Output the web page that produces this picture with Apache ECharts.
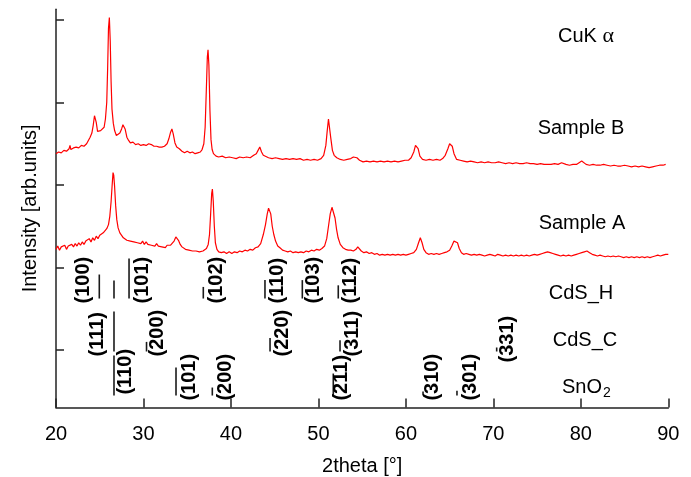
<!DOCTYPE html>
<html><head><meta charset="utf-8">
<script src="https://cdn.jsdelivr.net/npm/echarts@6/dist/echarts.min.js"></script>
<style>html,body{margin:0;padding:0;background:#fff}#c{width:691px;height:477px}</style>
</head><body><div id="c"></div>
<script>
// ---- data ----
const xTicks = [20, 30, 40, 50, 60, 70, 80, 90];
const yTicks = [0, 100, 200, 300, 400];

// Sample B: [2theta, intensity]
const sampleB = [[20.0,238],[20.3,240],[20.6,239],[20.9,242],[21.2,241],[21.5,244],[21.6,248],[21.7,243],[22.0,245],[22.3,246],[22.6,245],[22.9,248],[23.2,247],[23.5,250],[23.7,254],[23.9,258],[24.1,263],[24.25,272],[24.4,284],[24.5,286],[24.6,276],[24.75,265],[24.9,264],[25.1,266],[25.3,264],[25.5,270],[25.65,280],[25.8,300],[25.9,340],[26.0,390],[26.1,403],[26.2,375],[26.3,325],[26.4,292],[26.55,275],[26.7,266],[26.9,260],[27.1,259],[27.3,263],[27.5,268],[27.65,273],[27.75,275],[27.9,268],[28.1,258],[28.3,254],[28.5,251],[28.8,252],[29.1,249],[29.4,250],[29.7,248],[30.0,249],[30.3,248],[30.6,250],[30.9,249],[31.2,247],[31.5,247],[31.8,246],[32.1,246],[32.4,247],[32.7,250],[32.9,256],[33.1,264],[33.25,268],[33.4,262],[33.6,251],[33.8,246],[34.1,244],[34.4,241],[34.7,239],[35.0,241],[35.3,239],[35.6,240],[35.9,238],[36.2,239],[36.5,240],[36.7,243],[36.9,250],[37.05,270],[37.2,320],[37.3,355],[37.38,364],[37.48,345],[37.6,290],[37.72,255],[37.85,243],[38.0,238],[38.3,235],[38.6,234],[39.0,235],[39.4,233],[39.8,234],[40.2,233],[40.6,232],[41.0,234],[41.4,233],[41.8,234],[42.2,233],[42.6,236],[42.9,238],[43.1,242],[43.3,246],[43.5,240],[43.7,236],[43.9,234],[44.3,233],[44.7,232],[45.1,233],[45.5,232],[45.9,231],[46.3,232],[46.7,231],[47.1,232],[47.5,231],[47.9,232],[48.3,230],[48.7,231],[49.1,230],[49.5,231],[49.9,230],[50.3,232],[50.6,236],[50.85,248],[51.0,265],[51.15,280],[51.25,278],[51.4,258],[51.6,242],[51.8,236],[52.1,233],[52.5,231],[52.9,230],[53.3,231],[53.7,232],[54.0,234],[54.2,236],[54.4,233],[54.7,230],[55.1,228],[55.5,229],[55.9,228],[56.3,229],[56.7,228],[57.1,229],[57.5,228],[57.9,229],[58.3,228],[58.7,229],[59.1,228],[59.5,229],[59.9,230],[60.3,230],[60.6,233],[60.9,240],[61.1,248],[61.25,250],[61.4,244],[61.6,235],[61.9,231],[62.3,230],[62.7,231],[63.1,230],[63.5,231],[63.9,230],[64.2,232],[64.5,236],[64.8,244],[65.0,250],[65.15,252],[65.3,247],[65.5,238],[65.8,231],[66.2,230],[66.6,229],[67.0,228],[67.4,229],[67.8,228],[68.2,227],[68.6,228],[69.0,227],[69.4,228],[69.8,227],[70.2,227],[70.6,228],[71.0,227],[71.4,226],[71.8,227],[72.2,226],[72.6,227],[73.0,226],[73.4,226],[73.8,227],[74.2,226],[74.6,226],[75.0,225],[75.4,226],[75.8,225],[76.2,225],[76.6,225],[77.0,226],[77.4,225],[77.8,227],[78.0,228],[78.3,225],[78.7,224],[79.1,225],[79.5,225],[79.8,227],[80.1,229],[80.3,228],[80.6,225],[81.0,224],[81.4,225],[81.8,224],[82.2,224],[82.6,225],[83.0,224],[83.4,223],[83.8,224],[84.2,223],[84.6,223],[85.0,224],[85.4,223],[85.8,222],[86.2,223],[86.6,222],[87.0,223],[87.4,222],[87.8,221],[88.2,222],[88.6,223],[89.0,224],[89.4,224],[89.7,225]];

// Sample A: [2theta, intensity]
const sampleA = [[20.0,122],[20.2,126],[20.4,121],[20.6,125],[20.8,123],[21.0,127],[21.2,122],[21.4,126],[21.6,124],[21.8,128],[22.0,125],[22.2,129],[22.4,126],[22.6,130],[22.8,127],[23.0,131],[23.2,128],[23.4,132],[23.6,130],[23.8,135],[24.0,131],[24.2,136],[24.4,133],[24.6,138],[24.8,135],[25.0,139],[25.2,137],[25.4,142],[25.6,143],[25.8,147],[26.0,152],[26.15,162],[26.3,180],[26.42,200],[26.52,215],[26.6,212],[26.7,198],[26.82,175],[26.95,158],[27.1,148],[27.3,142],[27.5,139],[27.7,136],[27.9,137],[28.1,133],[28.3,135],[28.5,132],[28.7,134],[28.9,131],[29.1,133],[29.3,130],[29.5,132],[29.7,129],[29.9,132],[30.1,128],[30.3,131],[30.5,128],[30.7,130],[30.9,127],[31.1,129],[31.3,126],[31.5,129],[31.7,126],[31.9,128],[32.1,125],[32.3,127],[32.5,124],[32.7,127],[32.9,125],[33.1,127],[33.3,128],[33.5,132],[33.7,137],[33.85,138],[34.0,133],[34.2,128],[34.4,125],[34.6,124],[34.8,122],[35.0,124],[35.2,121],[35.4,123],[35.6,120],[35.8,122],[36.0,120],[36.2,122],[36.4,119],[36.6,121],[36.8,120],[37.0,122],[37.2,123],[37.4,128],[37.55,140],[37.68,165],[37.8,190],[37.88,195],[37.98,180],[38.1,150],[38.22,130],[38.4,122],[38.6,119],[38.9,118],[39.2,119],[39.5,117],[39.8,119],[40.1,117],[40.4,119],[40.7,118],[41.0,120],[41.3,119],[41.6,121],[41.9,120],[42.2,122],[42.5,121],[42.8,124],[43.1,125],[43.4,129],[43.7,140],[43.95,152],[44.15,165],[44.3,172],[44.42,173],[44.55,165],[44.72,150],[44.9,140],[45.1,132],[45.35,126],[45.6,124],[45.9,121],[46.2,120],[46.5,119],[46.8,120],[47.1,118],[47.4,119],[47.7,118],[48.0,119],[48.3,118],[48.6,120],[48.9,119],[49.2,121],[49.5,120],[49.8,122],[50.1,121],[50.4,123],[50.7,126],[50.95,135],[51.15,150],[51.35,165],[51.55,173],[51.72,171],[51.9,160],[52.08,146],[52.25,136],[52.5,128],[52.8,124],[53.1,122],[53.4,121],[53.7,121],[54.0,120],[54.3,122],[54.5,125],[54.7,123],[54.9,120],[55.2,118],[55.5,119],[55.8,117],[56.1,118],[56.4,116],[56.7,117],[57.0,115],[57.3,116],[57.6,115],[57.9,116],[58.2,115],[58.5,116],[58.8,115],[59.1,116],[59.4,115],[59.7,116],[60.0,115],[60.3,116],[60.6,117],[60.9,118],[61.2,122],[61.45,130],[61.65,136],[61.85,130],[62.05,122],[62.3,118],[62.6,116],[62.9,117],[63.2,116],[63.5,117],[63.8,116],[64.1,117],[64.4,118],[64.7,119],[65.0,121],[65.25,126],[65.5,132],[65.7,134],[65.9,130],[66.1,123],[66.35,118],[66.6,116],[66.9,117],[67.2,116],[67.5,115],[67.8,116],[68.1,115],[68.4,116],[68.7,115],[69.0,114],[69.3,115],[69.6,116],[69.9,115],[70.2,114],[70.5,116],[70.8,115],[71.1,114],[71.4,115],[71.7,114],[72.0,115],[72.3,114],[72.6,115],[72.9,114],[73.2,115],[73.5,114],[73.8,115],[74.1,114],[74.4,115],[74.7,116],[75.0,115],[75.3,116],[75.6,117],[75.9,118],[76.2,119],[76.5,118],[76.8,117],[77.1,116],[77.4,115],[77.7,114],[78.0,115],[78.3,114],[78.6,115],[78.9,114],[79.2,115],[79.5,116],[79.8,117],[80.1,118],[80.4,119],[80.7,120],[81.0,118],[81.3,116],[81.6,115],[81.9,114],[82.2,115],[82.5,114],[82.8,113],[83.1,114],[83.4,113],[83.7,114],[84.0,113],[84.3,114],[84.6,113],[84.9,112],[85.2,113],[85.5,112],[85.8,113],[86.1,112],[86.4,113],[86.7,112],[87.0,113],[87.3,112],[87.6,113],[87.9,112],[88.2,113],[88.5,114],[88.8,115],[89.1,114],[89.4,115],[89.7,116],[90.0,116]];

// Reference patterns: positions (2theta), relative intensities (%), Miller indices
const cdsHPos = [24.95, 26.63, 28.35, 36.84, 43.89, 48.16, 52.27];
const cdsHInt = [60, 45, 100, 29, 46, 46, 33];
const cdsHLabels = ['(100)', '', '(101)', '(102)', '(110)', '(103)', '(112)'];

const cdsCPos = [26.63, 30.35, 44.47, 52.47, 70.38];
const cdsCInt = [100, 24, 34, 28, 10];
const cdsCLabels = ['(111)', '(200)', '(220)', '(311)', '(331)'];

const sno2Pos = [26.63, 33.72, 37.87, 51.70, 61.96, 65.84];
const sno2Int = [100, 70, 20, 55, 10, 12];
const sno2Labels = ['(110)', '(101)', '(200)', '(211)', '(310)', '(301)'];

// ---- layout / style ----
const FONT = "'Liberation Sans', Arial, Helvetica, sans-serif";
const stickScale = 0.485;            // y units per 1 % intensity
const baseH = 62.4, baseC = -1.8, baseS = -55.2;   // baselines of the stick rows (y units)
const dxH = [-16, 0, 13, 13, 13, 11, 12];
const dxC = [-17, 11, 12, 12, 11];
const dxS = [11, 13, 13, 8, 9, 14];
const dyC = [0, 0, 0, 0, 6];
const dyS = [-6, 0, 0, 0, 0, 0];
const dyH = [0, 0, 0, 0, 0, 0, 0];
const labelDrop = 5;

function stickSeries(pos, inten, labels, base, dx, dy) {
  return {
    type: 'custom',
    silent: true,
    clip: false,
    z: 5,
    data: pos.map((p, i) => [p, inten[i]]),
    renderItem: function (params, api) {
      const i = params.dataIndex;
      const x = api.value(0), h = api.value(1);
      const p0 = api.coord([x, base]);
      const p1 = api.coord([x, base + h * stickScale]);
      const children = [{
        type: 'line',
        shape: { x1: p0[0], y1: p0[1], x2: p1[0], y2: p1[1] },
        style: { stroke: '#1a1a1a', lineWidth: 1.6 }
      }];
      if (labels[i]) {
        children.push({
          type: 'text',
          x: p0[0] + dx[i],
          y: p0[1] + labelDrop + dy[i],
          rotation: Math.PI / 2,
          style: {
            text: labels[i], fontSize: 20, fontWeight: 'bold', fontFamily: FONT,
            fill: '#000', align: 'left', verticalAlign: 'middle'
          }
        });
      }
      return { type: 'group', children: children };
    }
  };
}

const chart = echarts.init(document.getElementById('c'), null, { renderer: 'canvas' });
chart.setOption({
  animation: false,
  backgroundColor: '#fff',
  grid: { left: 56, right: 22.7, top: 9.3, bottom: 69.5, containLabel: false, outerBoundsMode: 'none' },
  xAxis: {
    type: 'value', min: xTicks[0], max: xTicks[xTicks.length - 1], interval: 10,
    name: '2theta [°]', nameLocation: 'middle', nameGap: 49,
    nameTextStyle: { fontSize: 20, color: '#000', fontFamily: FONT },
    axisLine: { show: true, onZero: false, lineStyle: { color: '#222', width: 1.5 } },
    axisTick: { show: true, inside: true, length: 9, lineStyle: { color: '#222', width: 1.5 } },
    axisLabel: { fontSize: 20, color: '#000', fontFamily: FONT, margin: 17 },
    splitLine: { show: false }
  },
  yAxis: {
    type: 'value', min: -69.7, max: 413,
    name: 'Intensity [arb.units]', nameLocation: 'middle', nameGap: 16, nameRotate: 90,
    nameTextStyle: { fontSize: 20, color: '#000', fontFamily: FONT },
    axisLine: { show: true, onZero: false, lineStyle: { color: '#222', width: 1.5 } },
    axisTick: { show: true, inside: true, length: 8, customValues: yTicks, lineStyle: { color: '#222', width: 1.5 } },
    axisLabel: { show: false },
    splitLine: { show: false }
  },
  graphic: [
    { type: 'text', x: 586, y: 36, style: { text: 'CuK {g|α}', rich: { g: { fontFamily: "'Liberation Serif', 'DejaVu Serif', serif", fontSize: 22 } }, fontSize: 20, fontFamily: FONT, fill: '#000', align: 'center', verticalAlign: 'middle' } },
    { type: 'text', x: 581, y: 128, style: { text: 'Sample B', fontSize: 20, fontFamily: FONT, fill: '#000', align: 'center', verticalAlign: 'middle' } },
    { type: 'text', x: 582, y: 223, style: { text: 'Sample A', fontSize: 20, fontFamily: FONT, fill: '#000', align: 'center', verticalAlign: 'middle' } },
    { type: 'text', x: 581, y: 293, style: { text: 'CdS_H', fontSize: 20, fontFamily: FONT, fill: '#000', align: 'center', verticalAlign: 'middle' } },
    { type: 'text', x: 585, y: 340, style: { text: 'CdS_C', fontSize: 20, fontFamily: FONT, fill: '#000', align: 'center', verticalAlign: 'middle' } },
    { type: 'text', x: 562, y: 387, style: { text: 'SnO', fontSize: 20, fontFamily: FONT, fill: '#000', align: 'left', verticalAlign: 'middle' } },
    { type: 'text', x: 603, y: 393, style: { text: '2', fontSize: 14, fontFamily: FONT, fill: '#000', align: 'left', verticalAlign: 'middle' } }
  ],
  series: [
    { type: 'line', data: sampleB, showSymbol: false, symbol: 'none', lineStyle: { color: '#ff0000', width: 1.2 }, z: 3, silent: true },
    { type: 'line', data: sampleA, showSymbol: false, symbol: 'none', lineStyle: { color: '#ff0000', width: 1.2 }, z: 3, silent: true },
    stickSeries(cdsHPos, cdsHInt, cdsHLabels, baseH, dxH, dyH),
    stickSeries(cdsCPos, cdsCInt, cdsCLabels, baseC, dxC, dyC),
    stickSeries(sno2Pos, sno2Int, sno2Labels, baseS, dxS, dyS)
  ]
});
</script>
</body></html>
